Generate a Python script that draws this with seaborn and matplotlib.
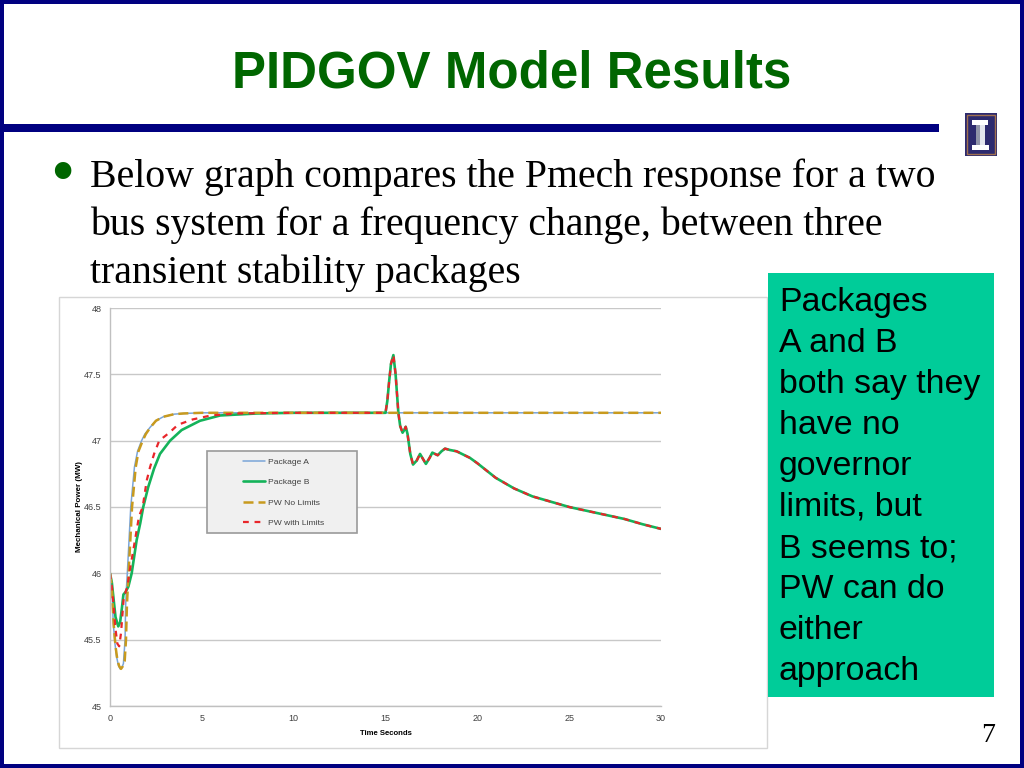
import matplotlib
matplotlib.use("Agg")
import matplotlib.pyplot as plt
from matplotlib.patches import Rectangle
import seaborn as sns

# ---- data ----
time_tail = [15.0, 15.1, 15.2, 15.3, 15.43, 15.55, 15.7, 15.8, 15.93, 16.02, 16.1, 16.2, 16.35, 16.5, 16.7, 16.88, 17.05,
             17.2, 17.4, 17.55, 17.84, 18.05, 18.24, 18.5, 18.87, 19.6, 20, 21, 22, 23, 24, 25, 26, 27, 28, 29, 30]
power_tail = [47.21, 47.3, 47.45, 47.58, 47.645, 47.5, 47.21, 47.11, 47.06, 47.08, 47.105, 47.05, 46.9, 46.82, 46.85, 46.9, 46.86,
              46.825, 46.87, 46.91, 46.89, 46.92, 46.94, 46.93, 46.92, 46.87, 46.83, 46.72, 46.64, 46.58, 46.54, 46.5, 46.47, 46.44, 46.41, 46.37, 46.335]
time_flat = [5, 8, 15, 20, 25, 30]
power_flat = [47.21, 47.21, 47.21, 47.21, 47.21, 47.21]

time_a = [0, 0.09, 0.18, 0.27, 0.36, 0.45, 0.55, 0.65, 0.73, 0.82, 0.85, 0.9, 0.95, 1.13, 1.33, 1.5, 1.72, 1.9, 2.18, 2.5, 2.9, 3.5, 4]
power_a = [46, 45.93, 45.62, 45.47, 45.37, 45.31, 45.28, 45.29, 45.32, 45.5, 45.75, 45.9, 46.02, 46.5, 46.8, 46.92, 47.0, 47.05, 47.1, 47.15, 47.18, 47.2, 47.205]

time_gold = [0, 0.1, 0.2, 0.3, 0.4, 0.5, 0.6, 0.7, 0.8, 0.87, 0.92, 0.97, 1.02, 1.2, 1.4, 1.55, 1.78, 1.95, 2.2, 2.5, 2.9, 3.5, 4]
power_gold = [46, 45.9, 45.62, 45.45, 45.35, 45.3, 45.28, 45.3, 45.34, 45.5, 45.75, 45.9, 46.02, 46.5, 46.8, 46.92, 47.0, 47.05, 47.1, 47.15, 47.18, 47.2, 47.205]

time_b = [0, 0.1, 0.2, 0.3, 0.45, 0.55, 0.65, 0.73, 0.85, 1.0, 1.18, 1.45, 1.65, 1.81, 2.08, 2.4, 2.72, 3.27, 3.9, 4.9, 6, 8, 10, 15]
power_b = [46, 45.93, 45.8, 45.67, 45.6, 45.63, 45.74, 45.84, 45.86, 45.9, 46.0, 46.25, 46.38, 46.5, 46.65, 46.79, 46.9, 47.0, 47.08, 47.15, 47.19, 47.205, 47.21, 47.21]

time_lim = [0, 0.1, 0.2, 0.3, 0.4, 0.5, 0.6, 0.75, 0.95, 1.05, 1.3, 1.58, 1.78, 2.0, 2.18, 2.4, 2.68, 3.23, 3.7, 4.5, 5.5, 7, 10, 15]
power_lim = [46, 45.9, 45.75, 45.58, 45.47, 45.45, 45.55, 45.82, 45.9, 46.0, 46.2, 46.43, 46.5, 46.7, 46.8, 46.9, 47.0, 47.06, 47.12, 47.16, 47.19, 47.205, 47.21, 47.21]

x_ticks = [0, 5, 10, 15, 20, 25, 30]
y_ticks = [45, 45.5, 46, 46.5, 47, 47.5, 48]
y_labels = ["45", "45.5", "46", "46.5", "47", "47.5", "48"]
series_names = ["Package A", "Package B", "PW No Limits", "PW with Limits"]
body_lines = ["Below graph compares the Pmech response for a two",
              "bus system for a frequency change, between three",
              "transient stability packages"]
box_lines = ["Packages", "A and B", "both say they", "have no", "governor",
             "limits, but", "B seems to;", "PW can do", "either", "approach"]

# ---- page ----
W, H = 1024, 768
sns.set_theme(style="white")
plt.rcParams["font.family"] = ["Liberation Sans", "DejaVu Sans"]
fig = plt.figure(figsize=(W / 100, H / 100), dpi=100, facecolor="white")


def fx(p):
    return p / W


def fy(p):
    return 1 - p / H


def box(x0, y0, x1, y1, **kw):
    r = Rectangle((fx(x0), fy(y1)), (x1 - x0) / W, (y1 - y0) / H, transform=fig.transFigure, **kw)
    fig.add_artist(r)
    return r


NAVY = "#000080"
# slide frame
box(0, 0, W, 4, fc=NAVY, ec="none")
box(0, H - 4, W, H, fc=NAVY, ec="none")
box(0, 0, 4, H, fc=NAVY, ec="none")
box(W - 4, 0, W, H, fc=NAVY, ec="none")
box(0, 124, 939, 132, fc=NAVY, ec="none")

fig.text(fx(512), fy(69), "PIDGOV Model Results", color="#006600", fontsize=36.8, fontweight="bold",
         ha="center", va="center_baseline", family="Liberation Sans")

# logo
box(965, 113, 997, 156, fc="#2d2a6e", ec="none")
box(967, 115, 995, 154, fc="#2d2a6e", ec="#a0704f", lw=1)
box(976, 125, 985, 145, fc="#e4e6ee", ec="none")
box(976, 125, 980, 145, fc="#8f93a8", ec="none")
box(972, 120, 988, 125, fc="white", ec="none")
box(972, 145, 989, 150, fc="white", ec="none")

# bullet and body text
fig.text(fx(62), fy(177), "•", color="#006600", fontsize=50, ha="center", va="center", family="Liberation Serif")
for i, line in enumerate(body_lines):
    fig.text(fx(90), fy(187 + 48 * i), line, color="black", fontsize=28.65, ha="left", va="baseline",
             family="Liberation Serif")
fig.text(fx(988), fy(736), "7", color="black", fontsize=20, ha="center", va="center", family="Liberation Serif")

# chart frame
box(59, 297, 767, 748, fc="white", ec="#d6d6d6", lw=1)

# green note
box(768, 273, 994, 697, fc="#00cc99", ec="none", zorder=3)
for i, line in enumerate(box_lines):
    fig.text(fx(779), fy(311 + 41 * i), line, color="black", fontsize=24.4, ha="left", va="baseline",
             family="Liberation Sans", zorder=4)

# ---- chart ----
ax = fig.add_axes([fx(110), fy(706), (661 - 110) / W, (706 - 308) / H])
ax.set_zorder(2)
ax.patch.set_alpha(0)

sns.lineplot(x=time_a + time_flat, y=power_a + power_flat, ax=ax, color="#7aa5d8", lw=1.1,
             sort=False, estimator=None, label=series_names[0])
sns.lineplot(x=time_b + time_tail, y=power_b + power_tail, ax=ax, color="#14b35a", lw=1.9,
             sort=False, estimator=None, label=series_names[1])
sns.lineplot(x=time_gold + time_flat, y=power_gold + power_flat, ax=ax, color="#c89a1e", lw=1.8,
             sort=False, estimator=None, dashes=(4, 2), label=series_names[2])
sns.lineplot(x=time_lim + time_tail, y=power_lim + power_tail, ax=ax, color="#e8262a", lw=1.6,
             sort=False, estimator=None, dashes=(2.6, 2.6), label=series_names[3])

ax.set_xlim(0, 30)
ax.set_ylim(45, 48)
ax.set_xticks(x_ticks)
ax.set_yticks(y_ticks)
ax.set_yticklabels(y_labels)
ax.grid(axis="y", color="#c8c8c8", lw=1)
ax.set_axisbelow(True)
for s in ["top", "right"]:
    ax.spines[s].set_visible(False)
for s in ["left", "bottom"]:
    ax.spines[s].set_color("#c0c0c0")
    ax.spines[s].set_linewidth(1)
ax.tick_params(axis="both", labelsize=6.5, labelcolor="#404040", length=2, width=0.8, color="#c8c8c8", pad=4)
ax.tick_params(axis="x", pad=3.5)
ax.set_xlabel("Time Seconds", fontsize=5.6, fontweight="bold", color="black", labelpad=5)
ax.set_ylabel("Mechanical Power (MW)", fontsize=5.8, fontweight="bold", color="black", labelpad=0.5)

# legend panel
panel = Rectangle((fx(207), fy(533)), 150 / W, 82 / H, transform=fig.transFigure, fc="#f0f0f0",
                  ec="#9a9a9a", lw=1.2, zorder=5)
ax.add_patch(panel)
leg = ax.legend(loc="center left", bbox_to_anchor=(fx(235), fy(492.5)), bbox_transform=fig.transFigure,
                frameon=False, fontsize=6.1, handlelength=2.6, handletextpad=0.45, labelspacing=1.5,
                labelcolor="#404040")
leg.set_zorder(6)

fig.savefig("out.png", dpi=100)
